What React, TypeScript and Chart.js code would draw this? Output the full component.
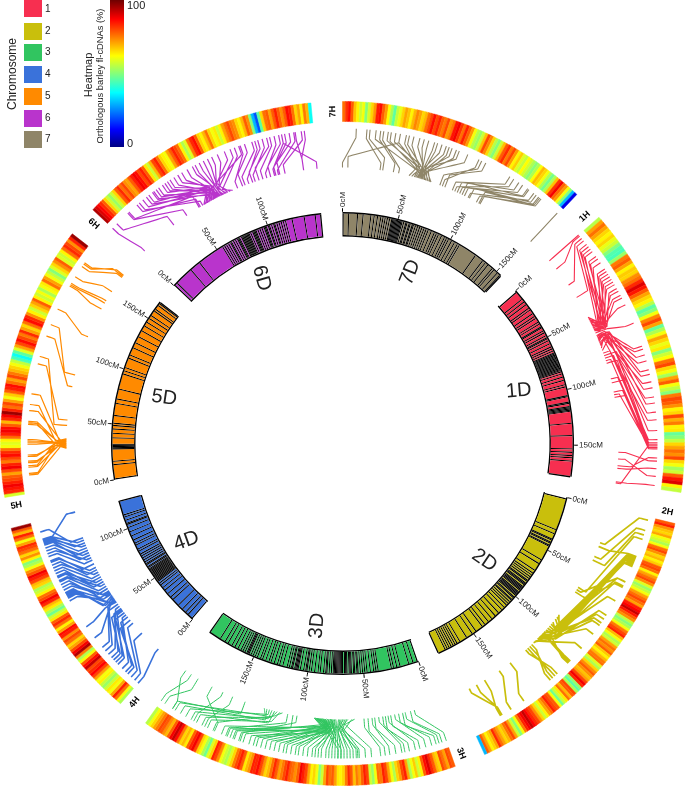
import React, { useEffect, useRef } from "react";
import { Chart, registerables } from "chart.js";

Chart.register(...registerables);

// ---------- data (all positions in cM along each chromosome) ----------
const chromOrder = ["7", "1", "2", "3", "4", "5", "6"];
const chromLengths = [155, 178, 186, 195, 126, 168, 149];
const gapLength = 19;
const legendNames = ["1", "2", "3", "4", "5", "6", "7"];
const legendColors = ["#F72F50", "#C9BF0C", "#31C560", "#3A72DA", "#FF8A00", "#B934CC", "#8F8568"];
const tickValues = [0, 50, 100, 150];

const markers7 = [5,13,18,25,28,31,34,36,38,40,42,44,45,46,47,48,49,50,51,52,53,55,57,58,60,61,63,64,66,68,70,72,74,76,78,81,84,86,88,91,94,96,98,101,104,107,109,126,134,137,140,145,147,151,154];
const markers1 = [8,11,14,18,20,24,27,29,33,35,38,39,42,44,47,49,50,52,55,58,60,62,64,65,66,67,68,69,70,71,72,73,74,75,76,77,78,79,80,82,84,87,90,94,96,104,105,110,111,114,115,116,117,118,129,140,152,155,158,160,163];
const markers2 = [29,33,38,39,41,42,44,45,59,63,70,73,75,77,79,81,82,84,85,86,88,89,90,91,92,94,95,96,97,98,100,101,103,104,106,108,110,113,116,120,124,128,132,136,139,146,150,156,163,166,168,170,172,174,176,178];
const markers3 = [4,8,16,19,22,24,36,38,40,43,46,48,50,52,54,55,57,58,60,61,62,64,65,66,68,69,70,71,72,73,74,75,76,78,80,82,83,85,88,90,93,96,98,100,101,103,106,108,109,110,111,113,114,116,118,122,125,127,130,133,135,138,141,143,146,148,150,152,154,155,156,158,160,162,165,168,171,175,178,183];
const markers4 = [5,8,12,17,24,27,31,35,38,41,43,45,46,47,48,49,50,51,52,53,54,55,56,57,58,60,61,63,64,66,68,70,72,74,77,79,83,85,88,92,96,100,103,104,107,110,112];
const markers5 = [13,16,27,28,29,30,31,37,41,45,48,50,57,68,72,81,95,98,101,110,113,120,125,131,137,142,146,150,153,158,160,164,166];
const markers6 = [3,20,30,55,57,59,61,63,64,66,68,70,71,72,74,75,76,77,78,79,80,81,83,85,86,87,88,90,92,94,96,97,98,100,101,103,105,106,108,110,112,114,116,122,133,143];

// pairs of [position on D chromosome, position on H chromosome]
const links7 = [[0,9],[4,38],[28,16],[30,18],[38,25],[42,27],[50,30],[52,32],[54,35],[55,38],[56,42],[57,44],[57,47],[58,51],[59,54],[59,57],[60,61],[61,63],[62,66],[62,69],[63,71],[64,73],[65,76],[66,78],[67,84],[60,22],[74,94],[76,92],[78,97],[84,115],[86,118],[88,122],[90,125],[92,129],[94,130],[97,134],[98,136],[104,138],[106,139],[107,140],[154,154]];
const links1 = [[0,0],[8,1],[23,3],[34,5],[51,8],[52,10],[53,12],[54,14],[55,18],[55,20],[56,23],[57,28],[57,30],[58,32],[58,34],[59,36],[60,38],[60,40],[61,43],[61,45],[62,48],[62,50],[58,55],[64,68],[66,84],[67,86],[68,90],[68,94],[69,100],[70,103],[71,108],[72,112],[69,118],[73,122],[74,128],[76,133],[78,140],[80,146],[82,148],[84,149],[86,150],[88,151],[100,150],[103,148],[110,152],[112,150],[114,149],[155,160],[165,158],[167,165],[178,150],[177,176],[160,170]];
const links2 = [[27,2],[30,27],[38,9],[41,12],[64,15],[66,45],[68,49],[89,27],[91,28],[93,29],[96,30],[98,31],[100,32],[102,33],[104,34],[106,45],[107,48],[108,59],[109,70],[110,73],[111,76],[112,78],[113,85],[115,97],[116,108],[117,109],[112,110],[119,126],[121,124],[123,122],[125,120],[140,148],[150,158],[163,166],[170,165],[176,165]];
const links3 = [[15,0],[18,3],[22,5],[24,7],[27,10],[30,14],[33,18],[35,21],[37,25],[39,28],[42,30],[45,34],[47,38],[50,41],[53,44],[60,50],[62,54],[65,58],[66,59],[67,60],[68,62],[69,64],[70,66],[71,68],[72,70],[74,72],[75,74],[76,76],[77,78],[77,80],[78,83],[78,85],[79,87],[80,89],[80,92],[81,95],[82,98],[82,100],[83,103],[83,106],[84,108],[84,111],[85,114],[85,117],[86,120],[86,123],[87,126],[87,128],[88,131],[88,135],[88,138],[89,141],[89,144],[90,147],[90,150],[89,70],[90,72],[103,137],[106,142],[110,146],[114,156],[116,160],[118,164],[120,168],[122,172],[124,176],[126,180],[128,184],[143,186],[153,162],[161,170],[170,155],[188,195],[182,192],[193,186]];
const links4 = [[5,0],[22,3],[32,6],[35,9],[38,11],[40,14],[42,18],[44,20],[45,22],[46,24],[48,27],[50,30],[52,41],[53,50],[54,33],[55,72],[56,74],[57,73],[58,76],[59,70],[60,78],[61,75],[62,80],[64,82],[66,84],[68,85],[70,87],[72,88],[74,90],[76,92],[78,94],[80,96],[82,98],[85,99],[88,102],[90,104],[92,106],[94,108],[96,110],[98,111],[100,112],[102,113],[104,114],[106,119],[126,113]];
const links5 = [[29,12],[29,13],[30,17],[30,18],[31,20],[31,21],[32,24],[32,25],[33,33],[33,32],[34,34],[34,35],[33,45],[34,46],[35,47],[35,54],[36,58],[36,65],[46,90],[50,85],[75,104],[84,112],[114,123],[137,140],[142,141],[144,142],[152,147],[165,155],[166,157],[167,158]];
const links6 = [[4,0],[33,4],[45,14],[56,15],[57,22],[59,24],[60,27],[61,30],[62,32],[63,35],[64,36],[65,38],[66,40],[67,43],[68,45],[68,47],[69,49],[70,52],[70,55],[71,58],[72,62],[73,66],[74,68],[75,71],[76,74],[77,77],[78,80],[79,84],[80,89],[82,93],[84,96],[70,99],[88,100],[92,103],[94,108],[97,110],[100,112],[102,115],[105,118],[108,120],[111,123],[114,126],[117,128],[121,130],[118,133],[120,136],[139,137],[149,128],[139,143],[125,141]];

// [from, to, hub]: links whose D position is in from..to lean towards the hub position
const hubs7 = [[50, 67, 58]];
const hubs1 = [[51, 78, 65]];
const hubs2 = [[89, 117, 100]];
const hubs3 = [[60, 90, 73], [114, 128, 124]];
const hubs4 = [[52, 58, 53]];
const hubs5 = [[27, 37, 33]];
const hubs6 = [[60, 84, 72]];

// percentage of orthologous barley fl-cDNAs, clockwise along each H chromosome
const heat7 = [76,82,86,78,68,63,57,61,50,58,66,72,84,86,78,72,62,54,46,56,60,66,71,68,63,69,74,71,66,69,76,80,86,80,84,78,75,80,72,75,85,88,82,76,84,78,72,61,55,52,57,68,80,74,66,55,50,57,68,78,83,75,80,72,63,67,59,56,62,58,54,50,54,62,69,66,61,54,48,54,68,82,88,77,72,61,50,30,10];
const heat1 = [55,71,76,71,66,63,66,60,57,50,45,44,52,75,78,71,63,67,66,73,76,83,90,85,78,71,66,63,55,46,50,61,74,80,71,47,54,61,71,66,60,64,50,57,62,76,80,66,61,53,71,78,61,56,50,75,80,78,73,63,66,80,70,75,63,64,47,50,56,66,71,76,73,80,66,61,53,57,78,85,90,63,56];
const heat2 = [78,84,73,68,66,71,61,58,54,61,76,80,73,66,69,63,67,78,80,76,63,71,76,80,73,59,52,56,61,71,76,80,76,71,84,87,92,85,78,73,56,50,54,61,75,80,84,69,61,54,57,71,76,73,78,67,63,69,75,76,59,54,66,73,78,73,68,71,80,88,83,52,46,54,80,78,69,76,64,57,48,61,78,80,84,76,71,63,57,66,73,80,83,87,92,88,84,75,61,50,57,71,80,76,69,66,71,76,83,71,66,63,71,78,30];
const heat3 = [78,80,71,76,80,66,69,78,83,90,86,78,63,57,67,61,54,71,84,80,71,66,54,61,71,80,84,75,76,61,52,57,80,84,78,71,75,68,78,83,75,66,63,64,71,78,76,80,71,57,50,61,66,63,71,80,84,88,78,73,76,78,84,80,75,71,78,83,76,69,66,73,80,86,83,84,73,69,64,78,84,80,75,66,59,54,57,61,73,80,84,66,59,48,54,61,66,80,88,84,78,64,69,66,75,86,92,88,78,69,73,78,80,75,71,66,61,55];
const heat4 = [54,61,76,84,71,61,64,57,52,56,63,61,71,80,87,83,80,92,86,78,61,54,75,94,88,80,71,66,76,80,73,84,86,71,63,76,83,78,64,57,48,54,64,69,83,88,80,76,63,57,54,66,69,80,84,88,78,73,61,54,50,63,73,66,76,80,83,71,61,76,84,69,78,96];
const heat5 = [58,83,85,88,84,80,78,71,80,88,84,75,80,86,83,76,61,59,63,76,84,88,86,78,69,83,88,96,84,76,80,71,61,67,78,84,86,76,71,80,75,69,66,61,56,44,38,46,59,71,80,86,80,75,83,71,66,76,86,83,73,63,57,66,71,78,63,57,61,54,61,64,76,71,61,56,50,59,66,73,78,59,57,63,76,83,80,73,84,96];
const heat6 = [94,90,87,83,78,66,57,52,57,66,78,83,76,80,73,71,78,84,88,86,80,84,78,64,57,69,80,84,76,66,63,61,71,78,84,80,76,63,54,59,75,83,86,78,66,63,69,76,66,61,64,57,63,71,76,80,75,73,66,63,69,78,73,50,30,20,46,66,76,78,71,78,84,78,73,78,86,84,76,66,71,63,75,69,38];

const heatScaleValues = [0, 12, 37, 62, 87, 100];
const heatScaleColors = [[0, 0, 130], [0, 0, 255], [0, 255, 255], [255, 255, 0], [255, 0, 0], [110, 0, 0]];

// ---------- helpers ----------
const markersBy = [markers7, markers1, markers2, markers3, markers4, markers5, markers6];
const linksBy = [links7, links1, links2, links3, links4, links5, links6];
const hubsBy = [hubs7, hubs1, hubs2, hubs3, hubs4, hubs5, hubs6];
const heatBy = [heat7, heat1, heat2, heat3, heat4, heat5, heat6];
const labelTilt = [0, 12, -5, -3, 12, -6, 10];
const colorFor = (c: string) => legendColors[legendNames.indexOf(c)];

const totalLength = chromLengths.reduce((a, b) => a + b, 0) + gapLength * chromOrder.length;
const degPerUnit = 360 / totalLength;
const chromStart = chromOrder.map((_, i) =>
  chromLengths.slice(0, i).reduce((a, b) => a + b + gapLength, 0)
);
const angleOf = (i: number, cM: number) => (chromStart[i] + cM) * degPerUnit;
const polar = (r: number, deg: number) => {
  const t = (deg * Math.PI) / 180;
  return { x: r * Math.sin(t), y: r * Math.cos(t) };
};

function heatColor(v: number) {
  let k = 0;
  while (k < heatScaleValues.length - 2 && v > heatScaleValues[k + 1]) k++;
  const f = (v - heatScaleValues[k]) / (heatScaleValues[k + 1] - heatScaleValues[k]);
  const a = heatScaleColors[k];
  const b = heatScaleColors[k + 1];
  const ch = (n: number) => Math.round(a[n] + (b[n] - a[n]) * f);
  return `rgb(${ch(0)},${ch(1)},${ch(2)})`;
}

const CLEAR = "rgba(0,0,0,0)";
const R_OUT = 342;
const R_HEAT_IN = 322;
const R_CHR_OUT = 231.5;
const R_CHR_IN = 207;
const OUTLINE = 1.4;
const MARK = 1.05;
const HUB_PULL = 0.55;
const cutoutPct = `${(R_CHR_IN / R_OUT) * 100}%`;
const ringBase = { type: "doughnut", radius: R_OUT, cutout: cutoutPct };

function heatRing() {
  const data: number[] = [];
  const colors: string[] = [];
  const widths: number[] = [];
  chromOrder.forEach((_, i) => {
    heatBy[i].forEach((v) => {
      data.push(chromLengths[i] / heatBy[i].length);
      colors.push(heatColor(v));
      widths.push(0.5);
    });
    data.push(gapLength);
    colors.push(CLEAR);
    widths.push(0);
  });
  return { ...ringBase, data, backgroundColor: colors, borderColor: colors, borderWidth: widths, weight: R_OUT - R_HEAT_IN };
}

function chromRing() {
  const data: number[] = [];
  const fills: string[] = [];
  chromOrder.forEach((c, i) => {
    const push = (v: number, col: string) => {
      if (v > 0) {
        data.push(v);
        fills.push(col);
      }
    };
    const col = colorFor(c);
    const edge = 1.2;
    push(edge, "#000");
    let pos = edge;
    markersBy[i].forEach((m) => {
      push(m - pos, col);
      push(MARK, "#000");
      pos = Math.max(pos, m) + MARK;
    });
    push(chromLengths[i] - edge - pos, col);
    push(edge, "#000");
    push(gapLength, CLEAR);
  });
  return { ...ringBase, data, backgroundColor: fills, borderWidth: 0, weight: R_CHR_OUT - R_CHR_IN - 2 * OUTLINE };
}

function outlineRing() {
  const data: number[] = [];
  const fills: string[] = [];
  chromOrder.forEach((_, i) => {
    data.push(chromLengths[i], gapLength);
    fills.push("#000", CLEAR);
  });
  return { ...ringBase, data, backgroundColor: fills, borderWidth: 0, weight: OUTLINE };
}

const spacerRing = { ...ringBase, data: [1], backgroundColor: [CLEAR], borderWidth: 0, weight: R_HEAT_IN - R_CHR_OUT };

const linkWidths = [1.1, 1.1, 1.7, 1, 1.6, 1.2, 1.2];

function linkDataset(i: number) {
  const pts: { x: number; y: number }[] = [];
  linksBy[i].forEach(([d, h], n) => {
    const aD = angleOf(i, d);
    const aH = angleOf(i, h);
    const hub = hubsBy[i].find(([from, to]) => d >= from && d <= to);
    const mid = hub ? d + (hub[2] - d) * HUB_PULL : d;
    const bendR = 281 + ((n * 3) % 5) * 2; // staggered bends keep crowded bundles open
    pts.push(polar(315, aH), polar(306, aH), polar(bendR, angleOf(i, mid)), polar(276, aD), { x: NaN, y: NaN });
  });
  return { type: "scatter", showLine: true, data: pts, borderColor: colorFor(chromOrder[i]), backgroundColor: colorFor(chromOrder[i]), borderWidth: linkWidths[i], pointRadius: 0, tension: 0.02, spanGaps: false, weight: 0 };
}

function tickDataset() {
  const pts: { x: number; y: number }[] = [];
  chromOrder.forEach((_, i) => {
    tickValues.filter((t) => t <= chromLengths[i]).forEach((t) => {
      const a = angleOf(i, t);
      pts.push(polar(R_CHR_OUT, a), polar(R_CHR_OUT + 4, a), { x: NaN, y: NaN });
    });
  });
  return { type: "scatter", showLine: true, data: pts, borderColor: "#000", borderWidth: 1, pointRadius: 0, tension: 0.02, spanGaps: false, weight: 0 };
}

const flip = (deg: number) => (deg < 180 ? deg - 90 : deg - 270);

const textPlugin = {
  id: "circosText",
  afterDatasetsDraw(chart: any) {
    const { ctx, scales } = chart;
    const put = (txt: string, r: number, deg: number, rot: number, font: string, color: string, align: string) => {
      const p = polar(r, deg);
      ctx.save();
      ctx.translate(scales.x.getPixelForValue(p.x), scales.y.getPixelForValue(p.y));
      ctx.rotate((rot * Math.PI) / 180);
      ctx.font = font;
      ctx.fillStyle = color;
      ctx.textAlign = align;
      ctx.textBaseline = "middle";
      ctx.fillText(txt, 0, 0);
      ctx.restore();
    };
    chromOrder.forEach((c, i) => {
      tickValues.filter((t) => t <= chromLengths[i]).forEach((t) => {
        const a = angleOf(i, t);
        put(`${t}cM`, R_CHR_OUT + 5, a, flip(a), '8px "Liberation Sans"', "#222", a < 180 ? "left" : "right");
      });
      const mid = angleOf(i, chromLengths[i] / 2);
      put(`${c}D`, 184, mid, flip(mid) + labelTilt[i], '20px "Liberation Sans"', "#222", "center");
      const hA = angleOf(i, -6);
      put(`${c}H`, 332, hA, flip(hA), 'bold 9px "Liberation Sans"', "#000", "center");
    });
  },
};

const gradientCss = `linear-gradient(to top, ${heatScaleValues
  .map((v, i) => `rgb(${heatScaleColors[i].join(",")}) ${v}%`)
  .join(", ")})`;

const abs = (s: React.CSSProperties): React.CSSProperties => ({ position: "absolute", fontFamily: '"Liberation Sans", sans-serif', color: "#222", whiteSpace: "nowrap", ...s });
const vertical = (cx: number, cy: number, size: number): React.CSSProperties =>
  abs({ left: cx, top: cy, fontSize: size, transform: "translate(-50%,-50%) rotate(-90deg)", lineHeight: 1 });

export default function App() {
  const ref = useRef<HTMLCanvasElement>(null);
  useEffect(() => {
    document.body.style.margin = "0";
    const chart = new Chart(ref.current as HTMLCanvasElement, {
      type: "scatter",
      data: {
        datasets: [
          heatRing(),
          spacerRing,
          outlineRing(),
          chromRing(),
          outlineRing(),
          ...chromOrder.map((_, i) => linkDataset(i)),
          tickDataset(),
        ] as any,
      },
      options: {
        responsive: false,
        animation: false,
        events: [],
        layout: { padding: { top: 101, bottom: 1, left: 0, right: 0 } },
        plugins: { legend: { display: false }, tooltip: { enabled: false } },
        scales: {
          x: { type: "linear", min: -342.5, max: 342.5, display: false },
          y: { type: "linear", min: -342.5, max: 342.5, display: false },
        },
      } as any,
      plugins: [textPlugin as any],
    });
    return () => chart.destroy();
  }, []);
  return (
    <div style={{ position: "absolute", left: 0, top: 0, width: 685, height: 787, overflow: "hidden", background: "#fff" }}>
      <canvas ref={ref} width={685} height={787} style={{ position: "absolute", left: 0, top: 0 }} />
      {legendNames.map((n, i) => (
        <React.Fragment key={n}>
          <div style={abs({ left: 24, top: i === 0 ? 0 : i * 21.7 + 1, width: 17.5, height: 17, background: legendColors[i] })} />
          <div style={abs({ left: 45, top: 4 + i * 21.7, fontSize: 10, lineHeight: 1 })}>{n}</div>
        </React.Fragment>
      ))}
      <div style={vertical(12, 74, 12)}>Chromosome</div>
      <div style={vertical(88, 75, 11)}>Heatmap</div>
      <div style={vertical(101, 76, 9.3)}>Orthologous barley fl-cDNAs (%)</div>
      <div style={abs({ left: 110, top: 0, width: 13.5, height: 147, background: gradientCss })} />
      <div style={abs({ left: 127, top: 0, fontSize: 11, lineHeight: 1 })}>100</div>
      <div style={abs({ left: 127, top: 138, fontSize: 11, lineHeight: 1 })}>0</div>
    </div>
  );
}
